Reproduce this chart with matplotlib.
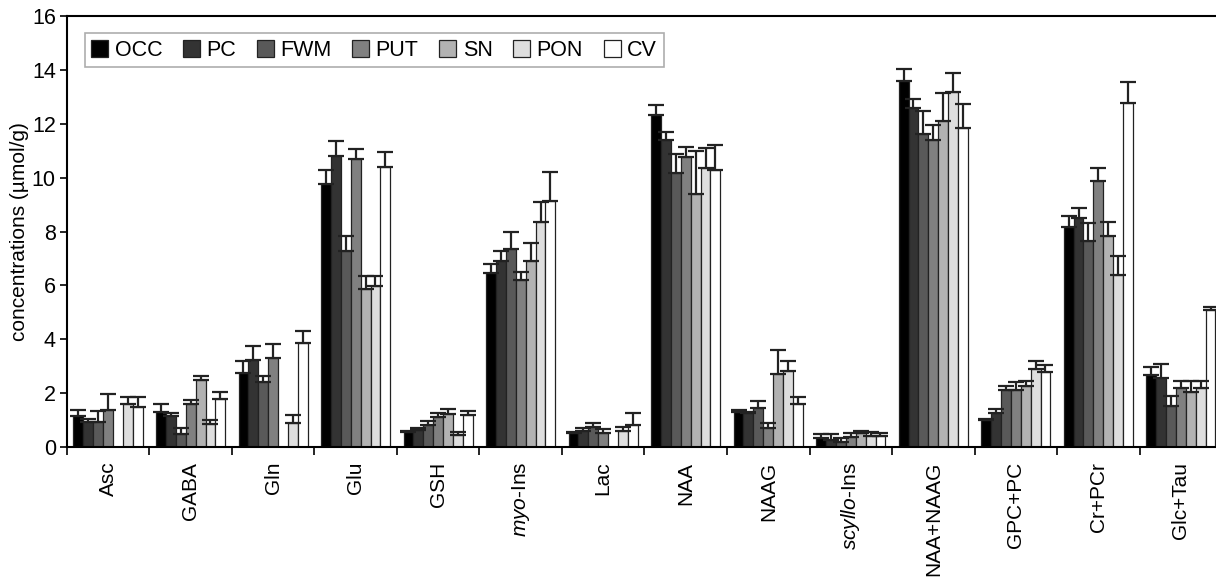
import numpy as np
import matplotlib
matplotlib.use("Agg")
import matplotlib.pyplot as plt

plt.rcParams['font.family'] = ['Liberation Sans', 'DejaVu Sans']
plt.rcParams['mathtext.fontset'] = 'custom'
plt.rcParams['mathtext.it'] = 'Liberation Sans:italic'
plt.rcParams['mathtext.rm'] = 'Liberation Sans'

metabolites = ['Asc', 'GABA', 'Gln', 'Glu', 'GSH', r'$\it{myo}$-Ins', 'Lac', 'NAA', 'NAAG',
               r'$\it{scyllo}$-Ins', 'NAA+NAAG', 'GPC+PC', 'Cr+PCr', 'Glc+Tau']
regions = ['OCC', 'PC', 'FWM', 'PUT', 'SN', 'PON', 'CV']
nan = np.nan

# mean concentrations per region (umol/g)
occ = [1.15, 1.31, 2.73, 9.78, 0.54, 6.48, 0.53, 12.32, 1.30, 0.32, 13.59, 1.00, 8.17, 2.67]
pc = [0.94, 1.15, 3.23, 10.80, 0.63, 6.91, 0.60, 11.39, 1.25, 0.26, 12.60, 1.25, 8.49, 2.57]
fwm = [0.94, 0.48, 2.42, 7.28, 0.82, 7.37, 0.75, 10.18, 1.46, 0.20, 11.64, 2.12, 7.64, 1.53]
put = [1.38, 1.58, 3.29, 10.71, 1.12, 6.20, 0.53, 10.77, 0.69, 0.38, 11.39, 2.12, 9.87, 2.18]
sn = [nan, 2.49, nan, 5.85, 1.21, 6.90, nan, 9.39, 2.71, 0.51, 12.11, 2.27, 7.84, 2.03]
pon = [1.58, 0.85, 0.90, 5.99, 0.45, 8.36, 0.60, 10.38, 2.82, 0.42, 13.18, 2.89, 6.38, 2.18]
cv = [1.50, 1.78, 3.86, 10.40, 1.19, 9.15, 0.82, 10.28, 1.58, 0.42, 11.86, 2.79, 12.79, 5.08]

# standard deviations
occ_sd = [0.22, 0.27, 0.46, 0.50, 0.05, 0.30, 0.03, 0.40, 0.07, 0.15, 0.46, 0.03, 0.41, 0.31]
pc_sd = [0.10, 0.12, 0.52, 0.55, 0.09, 0.36, 0.12, 0.31, 0.06, 0.21, 0.31, 0.15, 0.39, 0.53]
fwm_sd = [0.40, 0.21, 0.21, 0.55, 0.14, 0.60, 0.13, 0.72, 0.25, 0.12, 0.83, 0.15, 0.68, 0.37]
put_sd = [0.57, 0.16, 0.52, 0.34, 0.13, 0.31, 0.14, 0.37, 0.19, 0.13, 0.56, 0.28, 0.51, 0.28]
sn_sd = [nan, 0.16, nan, 0.51, 0.19, 0.68, nan, 1.59, 0.89, 0.08, 1.05, 0.18, 0.52, 0.43]
pon_sd = [0.29, 0.15, 0.29, 0.37, 0.12, 0.75, 0.15, 0.74, 0.37, 0.15, 0.72, 0.30, 0.71, 0.28]
cv_sd = [0.37, 0.25, 0.44, 0.56, 0.16, 1.05, 0.45, 0.92, 0.26, 0.09, 0.87, 0.25, 0.76, 0.13]

means = [occ, pc, fwm, put, sn, pon, cv]
sds = [occ_sd, pc_sd, fwm_sd, put_sd, sn_sd, pon_sd, cv_sd]
colors = ['#000000', '#333333', '#595959', '#808080', '#b2b2b2', '#dedede', '#ffffff']

fig = plt.figure(figsize=(12.16, 5.79), dpi=100)
ax = fig.add_axes([0.055, 0.228, 0.95, 0.744])

x = np.arange(len(metabolites))
w = 0.12
for k in range(len(regions)):
    pos = x + (k - 3) * w
    m = np.array(means[k], dtype=float)
    s = np.array(sds[k], dtype=float)
    ax.bar(pos, m, w, color=colors[k], edgecolor='#222222', linewidth=0.9,
           label=regions[k], zorder=2)
    ax.errorbar(pos, m, yerr=[np.zeros_like(s), s], fmt='none', ecolor='#222222',
                elinewidth=1.6, capsize=6, capthick=1.6, zorder=3)

ax.set_xlim(-0.5, len(metabolites) - 0.5)
ax.set_ylim(0, 16)
ax.set_yticks(np.arange(0, 17, 2))
ax.tick_params(axis='y', labelsize=15.5, direction='out', length=5, width=1.2, pad=3)
ax.set_xticks(np.arange(-0.5, len(metabolites), 1.0))
ax.set_xticklabels([])
ax.tick_params(axis='x', direction='out', length=6, width=1.2)
for i, name in enumerate(metabolites):
    ax.text(i, -0.55, name, rotation=90, ha='center', va='top', fontsize=15,
            transform=ax.transData)
ax.set_ylabel('concentrations (µmol/g)', fontsize=15, labelpad=2)

for sp in ['left', 'bottom', 'top']:
    ax.spines[sp].set_linewidth(1.5)
ax.spines['right'].set_visible(False)

leg = ax.legend(loc='upper left', ncol=7, fontsize=15.5, frameon=True, fancybox=False,
                handlelength=0.8, handleheight=0.8, handletextpad=0.3,
                columnspacing=0.95, borderpad=0.3, bbox_to_anchor=(0.006, 0.985))
leg.get_frame().set_edgecolor('#999999')
leg.get_frame().set_linewidth(1.2)

fig.savefig('out.png', dpi=100)
